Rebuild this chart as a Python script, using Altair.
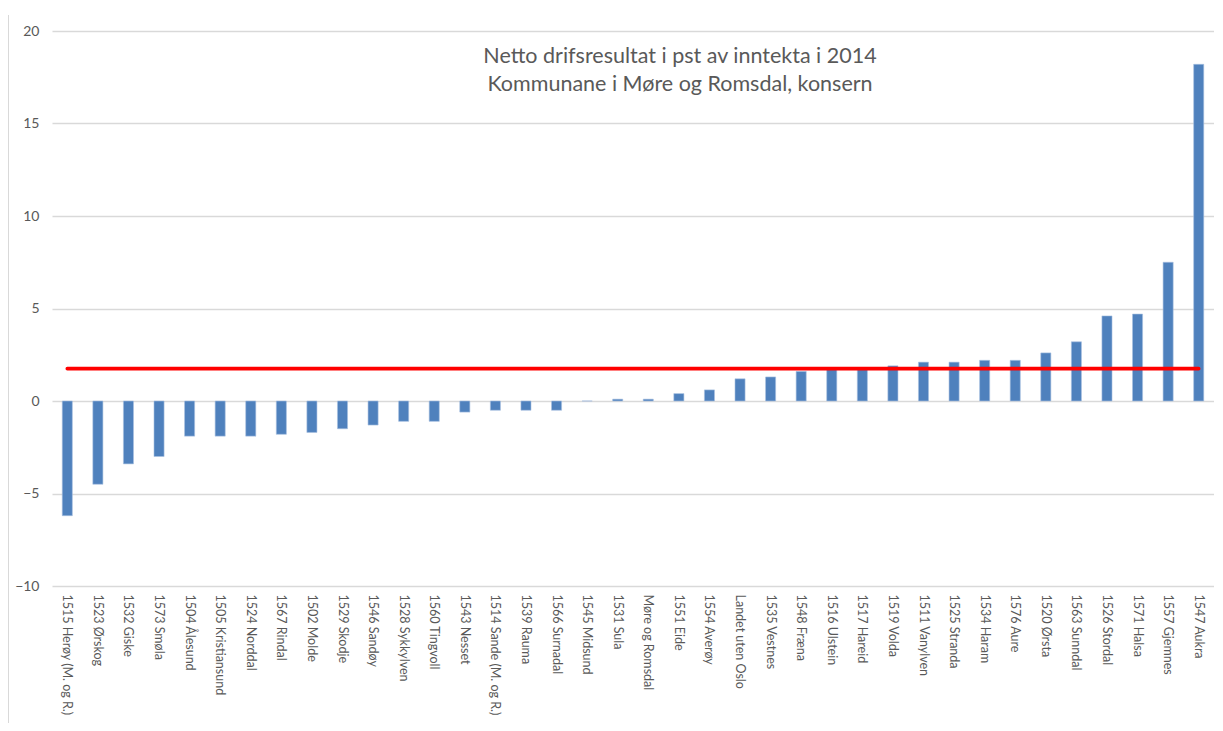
import altair as alt
import pandas as pd

kommunar = [
    "1515 Herøy (M. og R.)", "1523 Ørskog", "1532 Giske", "1573 Smøla", "1504 Ålesund",
    "1505 Kristiansund", "1524 Norddal", "1567 Rindal", "1502 Molde", "1529 Skodje",
    "1546 Sandøy", "1528 Sykkylven", "1560 Tingvoll", "1543 Nesset", "1514 Sande (M. og R.)",
    "1539 Rauma", "1566 Surnadal", "1545 Midsund", "1531 Sula", "Møre og Romsdal",
    "1551 Eide", "1554 Averøy", "Landet uten Oslo", "1535 Vestnes", "1548 Fræna",
    "1516 Ulstein", "1517 Hareid", "1519 Volda", "1511 Vanylven", "1525 Stranda",
    "1534 Haram", "1576 Aure", "1520 Ørsta", "1563 Sunndal", "1526 Stordal",
    "1571 Halsa", "1557 Gjemnes", "1547 Aukra",
]
resultat = [
    -6.2, -4.5, -3.4, -3.0, -1.9,
    -1.9, -1.9, -1.8, -1.7, -1.5,
    -1.3, -1.1, -1.1, -0.6, -0.5,
    -0.5, -0.5, 0.0, 0.1, 0.1,
    0.4, 0.6, 1.2, 1.3, 1.6,
    1.7, 1.7, 1.9, 2.1, 2.1,
    2.2, 2.2, 2.6, 3.2, 4.6,
    4.7, 7.5, 18.2,
]
tilraadd_nivaa = 1.75
y_ticks = [-10, -5, 0, 5, 10, 15, 20]
tittel = ["Netto drifsresultat i pst av inntekta i 2014",
          "Kommunane i Møre og Romsdal, konsern"]

df = pd.DataFrame({"kommune": kommunar, "resultat": resultat})

FONT = "Lato"
GREY = "#595959"
GRID = "#d9d9d9"

x_enc = alt.X(
    "kommune:N", sort=kommunar, title=None,
    scale=alt.Scale(paddingInner=0.67, paddingOuter=0.335),
    axis=alt.Axis(labelAngle=90, labelAlign="left", labelBaseline="middle",
                  labelPadding=8, ticks=False, domain=False, grid=False,
                  labelFont=FONT, labelFontSize=12.5, labelColor=GREY,
                  labelOverlap=False, labelLimit=300),
)

bars = alt.Chart(df).mark_bar(color="#4f81bd", stroke="#a9c1e0", strokeWidth=0.6).encode(
    x=x_enc,
    y=alt.Y("resultat:Q", title=None,
            scale=alt.Scale(domain=[-10, 20], nice=False, zero=False),
            axis=alt.Axis(values=y_ticks, ticks=False, domain=False, grid=True,
                          gridColor=GRID, gridWidth=1.3, labelPadding=13,
                          labelFont=FONT, labelFontSize=14, labelColor=GREY)),
)

linje = alt.Chart(df).mark_line(color="#ff0000", strokeWidth=3.6, strokeCap="round").encode(
    x=alt.X("kommune:N", sort=kommunar),
    y=alt.datum(tilraadd_nivaa),
)

ramme = alt.Chart(df).mark_rule(color=GRID, strokeWidth=2).encode(
    x=alt.value(-44), y=alt.value(-16), y2=alt.value(700)
)

chart = alt.layer(bars, linje, ramme).properties(
    width=1162, height=555,
    padding={"left": 44, "top": 23, "right": 0, "bottom": 137},
    autosize=alt.AutoSizeParams(type="none"),
    title=alt.TitleParams(text=tittel, anchor="middle", dx=47, dy=85,
                          baseline="top", font=FONT, fontSize=21.5,
                          fontWeight="normal", color=GREY, lineHeight=28),
).configure_view(stroke=None)

chart.save("out.html", embed_options={"renderer": "svg", "actions": False})
